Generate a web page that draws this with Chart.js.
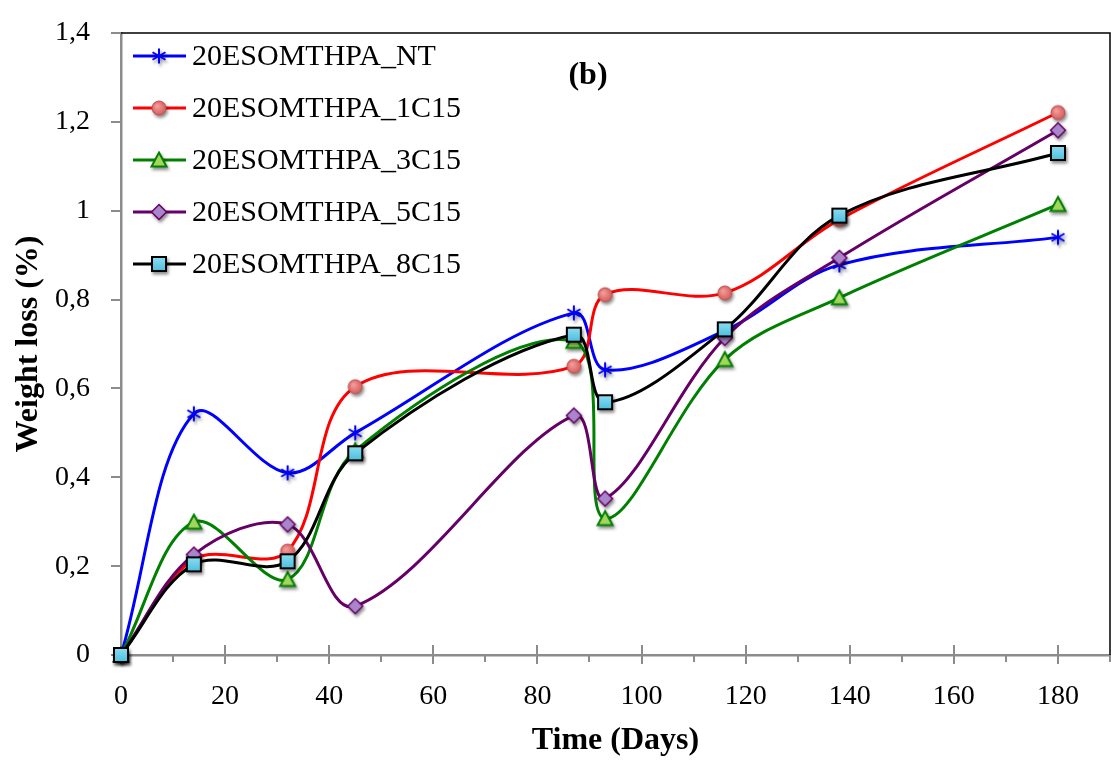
<!DOCTYPE html>
<html>
<head>
<meta charset="utf-8">
<script src="https://cdn.jsdelivr.net/npm/chart.js@4/dist/chart.umd.min.js"></script>
<style>
  html, body { margin: 0; padding: 0; background: #ffffff; }
  canvas { display: block; }
</style>
</head>
<body>
<canvas id="chart" width="1111" height="765"></canvas>
<script>
// Sampling days
const days = [0, 14, 32, 45, 87, 93, 116, 138, 180];

// Weight loss (%) per formulation
const nt   = [0, 0.543, 0.410, 0.500, 0.770, 0.642, 0.730, 0.878, 0.940];
const c1   = [0, 0.215, 0.234, 0.604, 0.650, 0.811, 0.815, 0.980, 1.221];
const c3   = [0, 0.299, 0.170, 0.460, 0.706, 0.307, 0.665, 0.804, 1.014];
const c5   = [0, 0.226, 0.294, 0.110, 0.539, 0.352, 0.714, 0.894, 1.181];
const c8   = [0, 0.204, 0.211, 0.454, 0.721, 0.569, 0.733, 0.989, 1.130];

const seriesNames = ['20ESOMTHPA_NT', '20ESOMTHPA_1C15', '20ESOMTHPA_3C15', '20ESOMTHPA_5C15', '20ESOMTHPA_8C15'];
const seriesValues = [nt, c1, c3, c5, c8];

const xTitle = 'Time (Days)';
const yTitle = 'Weight loss (%)';
const panelTag = '(b)';

// ---- marker sprites (drawn once, with a soft drop shadow) ----
function sprite(drawShape) {
  const raw = document.createElement('canvas');
  raw.width = 32; raw.height = 32;
  const r = raw.getContext('2d');
  r.translate(16, 16);
  drawShape(r);
  const out = document.createElement('canvas');
  out.width = 32; out.height = 32;
  const o = out.getContext('2d');
  o.shadowColor = 'rgba(0,0,0,0.45)';
  o.shadowBlur = 3;
  o.shadowOffsetX = 1.5;
  o.shadowOffsetY = 2.5;
  o.drawImage(raw, 0, 0);
  return out;
}

const starMarker = sprite(g => {
  g.strokeStyle = '#0000ff';
  g.lineWidth = 2;
  g.beginPath();
  for (let k = 0; k < 3; k++) {
    const a = Math.PI / 2 + k * Math.PI / 3;
    g.moveTo(Math.cos(a) * 7.5, Math.sin(a) * 7.5);
    g.lineTo(-Math.cos(a) * 7.5, -Math.sin(a) * 7.5);
  }
  g.stroke();
});

const circleMarker = sprite(g => {
  const grad = g.createRadialGradient(-2, -2, 1, 0, 0, 7.5);
  grad.addColorStop(0, '#f39a98');
  grad.addColorStop(1, '#d25a58');
  g.fillStyle = grad;
  g.strokeStyle = '#c0504d';
  g.lineWidth = 1;
  g.beginPath();
  g.arc(0, 0, 7, 0, Math.PI * 2);
  g.fill();
  g.stroke();
});

const triangleMarker = sprite(g => {
  g.fillStyle = '#a4d65e';
  g.strokeStyle = '#008000';
  g.lineWidth = 2;
  g.beginPath();
  g.moveTo(0, -7.5);
  g.lineTo(7.5, 6.5);
  g.lineTo(-7.5, 6.5);
  g.closePath();
  g.fill();
  g.stroke();
});

const diamondMarker = sprite(g => {
  g.fillStyle = '#a985c9';
  g.strokeStyle = '#660066';
  g.lineWidth = 1.5;
  g.beginPath();
  g.moveTo(0, -7.5);
  g.lineTo(7.5, 0);
  g.lineTo(0, 7.5);
  g.lineTo(-7.5, 0);
  g.closePath();
  g.fill();
  g.stroke();
});

const squareMarker = sprite(g => {
  const grad = g.createLinearGradient(0, -7, 0, 7);
  grad.addColorStop(0, '#8edcf0');
  grad.addColorStop(1, '#4bbfe0');
  g.fillStyle = grad;
  g.strokeStyle = '#000000';
  g.lineWidth = 2;
  g.fillRect(-7, -7, 14, 14);
  g.strokeRect(-7, -7, 14, 14);
});

const lineColors = ['#0000ff', '#ff0000', '#008000', '#660066', '#000000'];
const markers = [starMarker, circleMarker, triangleMarker, diamondMarker, squareMarker];

const datasets = seriesNames.map((name, i) => ({
  label: name,
  data: days.map((d, j) => ({ x: d, y: seriesValues[i][j] })),
  borderColor: lineColors[i],
  backgroundColor: lineColors[i],
  borderWidth: 3,
  tension: 0.35,
  pointStyle: markers[i],
  pointRadius: 7,
  pointHoverRadius: 7,
  clip: false,
  order: seriesNames.length - i
}));

const AXIS_GRAY = '#8c8c8c';
const SERIF = '"Liberation Serif", "Times New Roman", serif';

// Frame, x-axis tick marks, legend and titles drawn on top of the plot
const decorations = {
  id: 'decorations',
  beforeDatasetsDraw(chart) {
    const { ctx, chartArea: a } = chart;
    ctx.save();
    ctx.strokeStyle = '#000000';
    ctx.lineWidth = 1.5;
    ctx.beginPath();
    ctx.moveTo(a.left, a.top);
    ctx.lineTo(a.right, a.top);
    ctx.lineTo(a.right, a.bottom);
    ctx.stroke();

    // x tick marks: major ones cross the axis, minor ones hang below it
    const xs = chart.scales.x;
    ctx.strokeStyle = AXIS_GRAY;
    ctx.lineWidth = 2;
    ctx.beginPath();
    xs.ticks.forEach(t => {
      const px = Math.round(xs.getPixelForValue(t.value));
      if (t.value % 20 === 0) {
        ctx.moveTo(px, a.bottom - 10);
        ctx.lineTo(px, a.bottom + 9);
      } else {
        ctx.moveTo(px, a.bottom);
        ctx.lineTo(px, a.bottom + 7);
      }
    });
    ctx.stroke();
    ctx.restore();
  },
  afterDraw(chart) {
    const { ctx, chartArea: a } = chart;
    ctx.save();

    // legend
    chart.data.datasets.forEach((ds, i) => {
      const y = 56 + 52 * i;
      ctx.strokeStyle = ds.borderColor;
      ctx.lineWidth = 3;
      ctx.beginPath();
      ctx.moveTo(133, y);
      ctx.lineTo(186, y);
      ctx.stroke();
      ctx.drawImage(ds.pointStyle, 159 - 16, y - 16);
      ctx.fillStyle = '#000000';
      ctx.font = '30px ' + SERIF;
      ctx.textAlign = 'left';
      ctx.textBaseline = 'middle';
      ctx.fillText(ds.label, 192, y + 1);
    });

    // panel tag
    ctx.fillStyle = '#000000';
    ctx.font = 'bold 32px ' + SERIF;
    ctx.textAlign = 'center';
    ctx.textBaseline = 'middle';
    ctx.fillText(panelTag, 588, 76);

    // axis titles
    ctx.fillText(xTitle, (a.left + a.right) / 2, 741);
    ctx.translate(29, (a.top + a.bottom) / 2);
    ctx.rotate(-Math.PI / 2);
    ctx.fillText(yTitle, 0, 0);
    ctx.restore();
  }
};

Chart.defaults.font.family = SERIF;
Chart.defaults.color = '#000000';

new Chart(document.getElementById('chart'), {
  type: 'line',
  data: { datasets },
  options: {
    responsive: false,
    devicePixelRatio: 1,
    animation: false,
    events: [],
    layout: { autoPadding: false, padding: { top: 33, right: 1, left: 0, bottom: 0 } },
    plugins: {
      legend: { display: false },
      tooltip: { enabled: false },
      title: { display: false }
    },
    scales: {
      x: {
        type: 'linear',
        min: 0,
        max: 190,
        afterFit: s => {
          s.height = 110;
          s.paddingLeft = 0; s.paddingRight = 0; s.paddingTop = 0; s.paddingBottom = 0;
        },
        ticks: {
          stepSize: 10,
          autoSkip: false,
          maxRotation: 0,
          padding: 25,
          font: { size: 28 },
          callback: v => (v % 20 === 0 && v <= 180 ? String(v) : '')
        },
        grid: { display: false, drawTicks: false },
        border: { display: true, color: AXIS_GRAY, width: 2.5 }
      },
      y: {
        min: 0,
        max: 1.4,
        afterFit: s => {
          s.width = 121;
          s.paddingLeft = 0; s.paddingRight = 0; s.paddingTop = 0; s.paddingBottom = 0;
        },
        ticks: {
          stepSize: 0.2,
          padding: 21,
          font: { size: 28 },
          callback: v => String(Number(v.toFixed(1))).replace('.', ',')
        },
        grid: {
          drawOnChartArea: false,
          drawTicks: true,
          tickLength: 10,
          color: AXIS_GRAY,
          lineWidth: 2
        },
        border: { display: true, color: AXIS_GRAY, width: 2.5 }
      }
    }
  },
  plugins: [decorations]
});
</script>
</body>
</html>
